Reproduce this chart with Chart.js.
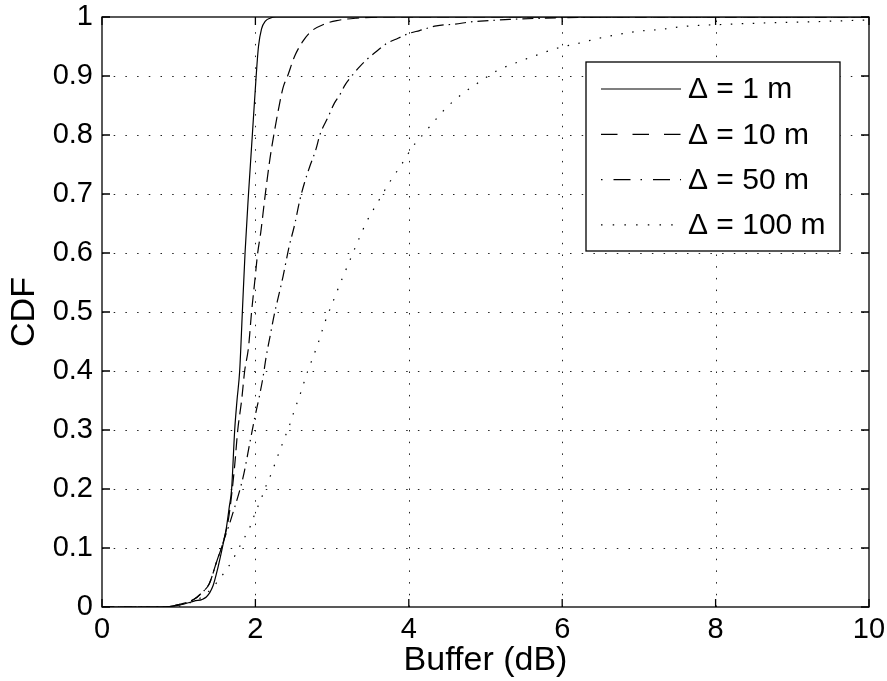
<!DOCTYPE html>
<html lang="en">
<head>
<meta charset="utf-8" />
<title>CDF of buffer</title>
<style>
  * { margin: 0; padding: 0; }
  body { background: #fff; }
  .chartBox { width: 887px; height: 681px; }
</style>
</head>
<body>
<div class="chartBox"><canvas id="myChart"></canvas></div>
<script src="https://cdn.jsdelivr.net/npm/chart.js@4.4.1/dist/chart.umd.min.js"></script>
<script>
// data block
const seriesLabels = ["Δ = 1 m", "Δ = 10 m", "Δ = 50 m", "Δ = 100 m"];
const xTickLabels = ["0", "2", "4", "6", "8", "10"];
const yTickLabels = ["0", "0.1", "0.2", "0.3", "0.4", "0.5", "0.6", "0.7", "0.8", "0.9", "1"];

const x1 = [0, 0.76, 1.0, 1.2, 1.36, 1.45, 1.51, 1.57, 1.62, 1.66, 1.69, 1.73, 1.76, 1.795, 1.83, 1.865, 1.91, 1.96, 2.01, 2.04, 2.08, 2.13, 2.19, 2.27, 2.5, 10];
const y1 = [0, 0, 0.003, 0.01, 0.017, 0.037, 0.066, 0.101, 0.133, 0.17, 0.20, 0.30, 0.35, 0.40, 0.50, 0.60, 0.70, 0.80, 0.90, 0.95, 0.98, 0.993, 0.998, 1, 1, 1];

const x10 = [0, 0.8, 1.0, 1.2, 1.3, 1.4, 1.49, 1.58, 1.65, 1.69, 1.73, 1.77, 1.82, 1.86, 1.91, 1.95, 1.99, 2.03, 2.07, 2.12, 2.19, 2.24, 2.30, 2.36, 2.42, 2.51, 2.62, 2.73, 2.90, 3.06, 3.32, 3.7, 10];
const y10 = [0, 0, 0.004, 0.013, 0.024, 0.04, 0.075, 0.11, 0.15, 0.19, 0.24, 0.30, 0.35, 0.40, 0.44, 0.50, 0.55, 0.60, 0.635, 0.69, 0.76, 0.80, 0.843, 0.88, 0.90, 0.933, 0.959, 0.976, 0.988, 0.994, 0.998, 1, 1];

const x50 = [0, 0.8, 1.0, 1.2, 1.3, 1.4, 1.49, 1.58, 1.66, 1.72, 1.79, 1.85, 1.93, 1.99, 2.05, 2.10, 2.14, 2.19, 2.25, 2.30, 2.36, 2.44, 2.51, 2.58, 2.64, 2.71, 2.79, 2.84, 2.95, 3.03, 3.10, 3.17, 3.25, 3.36, 3.47, 3.60, 3.71, 3.86, 4.0, 4.14, 4.36, 4.60, 4.83, 5.07, 5.31, 5.79, 6.5, 10];
const y50 = [0, 0, 0.004, 0.013, 0.024, 0.04, 0.075, 0.11, 0.14, 0.165, 0.195, 0.226, 0.28, 0.32, 0.356, 0.39, 0.424, 0.458, 0.498, 0.526, 0.56, 0.611, 0.647, 0.69, 0.719, 0.747, 0.776, 0.80, 0.831, 0.854, 0.868, 0.885, 0.899, 0.916, 0.93, 0.944, 0.955, 0.964, 0.972, 0.977, 0.985, 0.988, 0.992, 0.994, 0.996, 0.998, 1, 1];

const x100 = [0, 0.9, 1.1, 1.25, 1.36, 1.45, 1.54, 1.62, 1.70, 1.76, 1.83, 1.90, 1.96, 2.0, 2.07, 2.11, 2.17, 2.25, 2.30, 2.35, 2.40, 2.45, 2.50, 2.59, 2.68, 2.73, 2.82, 2.91, 3.01, 3.12, 3.23, 3.34, 3.45, 3.60, 3.74, 3.90, 4.05, 4.16, 4.29, 4.48, 4.68, 4.91, 5.15, 5.41, 5.68, 5.93, 6.20, 6.48, 6.75, 7.0, 7.29, 7.59, 8.02, 8.66, 9.26, 10];
const y100 = [0, 0, 0.005, 0.013, 0.023, 0.034, 0.049, 0.063, 0.079, 0.094, 0.111, 0.128, 0.145, 0.162, 0.18, 0.197, 0.214, 0.241, 0.259, 0.276, 0.293, 0.31, 0.33, 0.363, 0.399, 0.416, 0.448, 0.484, 0.517, 0.553, 0.587, 0.621, 0.653, 0.687, 0.718, 0.749, 0.78, 0.797, 0.817, 0.845, 0.868, 0.889, 0.909, 0.923, 0.936, 0.947, 0.955, 0.964, 0.971, 0.976, 0.979, 0.984, 0.987, 0.99, 0.992, 0.995];

// line patterns for curves and for the legend samples
const dashes = [[], [12, 6], [11, 5, 1.5, 5], [1.5, 9.5]];
const legendDashes = [[], [16.5, 15], [1.5, 11, 17, 10], [1.5, 10.2]];
const FONT = "'Liberation Sans', Arial, sans-serif";

const toPoints = (xs, ys) => xs.map((x, i) => ({ x: x, y: ys[i] }));

const data = {
  datasets: [
    [x1, y1], [x10, y10], [x50, y50], [x100, y100]
  ].map(([xs, ys], i) => ({
    label: seriesLabels[i],
    data: toPoints(xs, ys),
    borderColor: "#000",
    borderWidth: 1.2,
    borderDash: dashes[i],
    pointRadius: 0,
    cubicInterpolationMode: "monotone",
    fill: false,
  })),
};

// matlab style axes: dotted grid, box, inward ticks, legend
const matlabAxes = {
  id: "matlabAxes",
  beforeDatasetsDraw(chart) {
    const { ctx, chartArea: { top, bottom, left, right }, scales: { x, y } } = chart;
    ctx.save();
    ctx.strokeStyle = "#222";
    ctx.lineWidth = 1;
    ctx.setLineDash([1.5, 10.2]);
    x.ticks.forEach((t) => {
      if (t.value <= x.min || t.value >= x.max) return;
      const px = Math.round(x.getPixelForValue(t.value)) + 0.5;
      ctx.beginPath();
      ctx.moveTo(px, bottom);
      ctx.lineTo(px, top);
      ctx.stroke();
    });
    y.ticks.forEach((t) => {
      if (t.value <= y.min || t.value >= y.max) return;
      const py = Math.round(y.getPixelForValue(t.value)) + 0.5;
      ctx.beginPath();
      ctx.moveTo(left, py);
      ctx.lineTo(right, py);
      ctx.stroke();
    });
    ctx.restore();
  },
  afterDatasetsDraw(chart) {
    const { ctx, chartArea: { top, bottom, left, right }, scales: { x, y } } = chart;
    const tl = 8;
    ctx.save();
    ctx.strokeStyle = "#000";
    ctx.lineWidth = 1.3;
    ctx.setLineDash([]);
    ctx.strokeRect(left, top, right - left, bottom - top);
    ctx.beginPath();
    x.ticks.forEach((t) => {
      const px = x.getPixelForValue(t.value);
      ctx.moveTo(px, bottom); ctx.lineTo(px, bottom - tl);
      ctx.moveTo(px, top); ctx.lineTo(px, top + tl);
    });
    y.ticks.forEach((t) => {
      const py = y.getPixelForValue(t.value);
      ctx.moveTo(left, py); ctx.lineTo(left + tl, py);
      ctx.moveTo(right, py); ctx.lineTo(right - tl, py);
    });
    ctx.stroke();

    // legend
    const bx = 586, by = 62, bw = 254, bh = 189;
    ctx.fillStyle = "#fff";
    ctx.fillRect(bx, by, bw, bh);
    ctx.lineWidth = 1.3;
    ctx.strokeRect(bx, by, bw, bh);
    ctx.font = "30px " + FONT;
    ctx.textBaseline = "middle";
    ctx.textAlign = "left";
    ctx.fillStyle = "#000";
    chart.data.datasets.forEach((ds, i) => {
      const ly = by + 27 + i * 45.3;
      ctx.lineWidth = 1.2;
      ctx.setLineDash(legendDashes[i]);
      ctx.beginPath();
      ctx.moveTo(601, ly);
      ctx.lineTo(681, ly);
      ctx.stroke();
      ctx.fillText(ds.label, 688, ly + 1);
    });
    ctx.restore();
  },
};

const config = {
  type: "line",
  data: data,
  options: {
    responsive: true,
    maintainAspectRatio: false,
    animation: false,
    layout: { padding: { top: 17, right: 18, left: 0, bottom: 0 } },
    plugins: { legend: { display: false }, tooltip: { enabled: false } },
    scales: {
      x: {
        type: "linear",
        min: 0,
        max: 10,
        afterFit: (s) => { s.height = 74; s.paddingLeft = 0; s.paddingRight = 0; },
        afterBuildTicks: (s) => { s.ticks = xTickLabels.map((l) => ({ value: Number(l) })); },
        ticks: {
          color: "#000",
          padding: 6,
          font: { family: FONT, size: 29 },
          callback: (v) => xTickLabels[Math.round(v / 2)],
        },
        grid: { display: false, drawTicks: false },
        border: { display: false },
        title: {
          display: true,
          text: "Buffer (dB)",
          color: "#000",
          font: { family: FONT, size: 34 },
          padding: { top: 0, bottom: 0 },
        },
      },
      y: {
        type: "linear",
        min: 0,
        max: 1,
        afterFit: (s) => { s.width = 102; s.paddingTop = 0; s.paddingBottom = 0; },
        afterBuildTicks: (s) => { s.ticks = yTickLabels.map((l) => ({ value: Number(l) })); },
        ticks: {
          color: "#000",
          padding: 9,
          font: { family: FONT, size: 29 },
          callback: (v) => yTickLabels[Math.round(v * 10)],
        },
        grid: { display: false, drawTicks: false },
        border: { display: false },
        title: {
          display: true,
          text: "CDF",
          color: "#000",
          font: { family: FONT, size: 34 },
          padding: { top: 4, bottom: 0 },
        },
      },
    },
  },
  plugins: [matlabAxes],
};

const myChart = new Chart(document.getElementById("myChart"), config);
</script>
</body>
</html>
